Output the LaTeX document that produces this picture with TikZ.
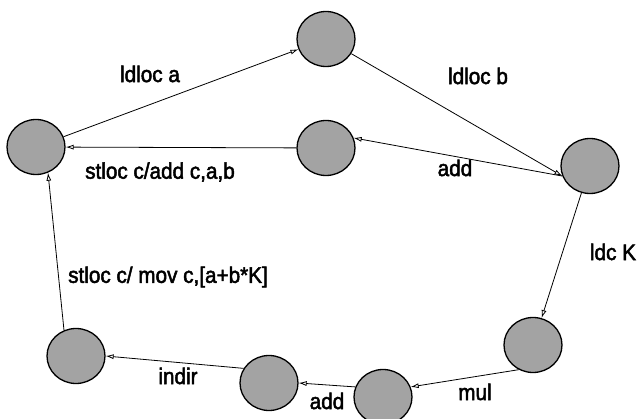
\documentclass[tikz,border=0pt]{standalone}
\usepackage{fontspec}
\setmainfont{Liberation Sans}[FakeBold=2.2, FakeStretch=0.92]
\usetikzlibrary{shapes.geometric,arrows.meta}

\tikzset{
  state/.style={ellipse, draw, line width=1.3pt, fill=black!36,
    minimum width=58pt, minimum height=55pt, inner sep=0pt},
  op/.style={font=\fontsize{22.5}{26}\selectfont},
  flow/.style={line width=0.8pt, -{Latex[open,length=8pt,width=5pt]}}
}

\begin{document}
\begin{tikzpicture}[x=1pt, y=-1pt]
        \useasboundingbox (0,0) rectangle (641,419);

        % States
        \node[state] (q0) at (36,147) {};
        \node[state] (q1) at (326,39) {};
        \node[state] (q2) at (590,166) {};
        \node[state] (q3) at (326,148) {};
        \node[state] (q4) at (533,345) {};
        \node[state] (q5) at (383,397) {};
        \node[state] (q6) at (269,383) {};
        \node[state] (q7) at (76,356) {};

        % Transitions
        \draw[flow] (q0) -- (q1);
        \draw[flow] (q1) -- (q2.200);
        \draw[flow] (q2.200) -- (q3.20);
        \draw[flow] (q3) -- (q0);
        \draw[flow] (q2) -- (q4);
        \draw[flow] (q4.240) -- (q5.20);
        \draw[flow] (q5.160) -- (q6.east);
        \draw[flow] (q6.150) -- (q7.east);
        \draw[flow] (q7.115) -- (q0.295);

        % Instructions
        \node[op] (ldA) at (150,74) {ldloc a};
        \node[op] (ldB) at (478,76) {ldloc b};
        \node[op] (addA) at (455,168) {add};
        \node[op] (stA) at (160,172) {stloc c/add c,a,b};
        \node[op] (ldK) at (613,252) {ldc K};
        \node[op] (stB) at (168,277) {stloc c/ mov c,[a+b*K]};
        \node[op] (ind) at (178,376) {indir};
        \node[op] (addB) at (327,401) {add};
        \node[op] (mul) at (475,392) {mul};
    \end{tikzpicture}
\end{document}
